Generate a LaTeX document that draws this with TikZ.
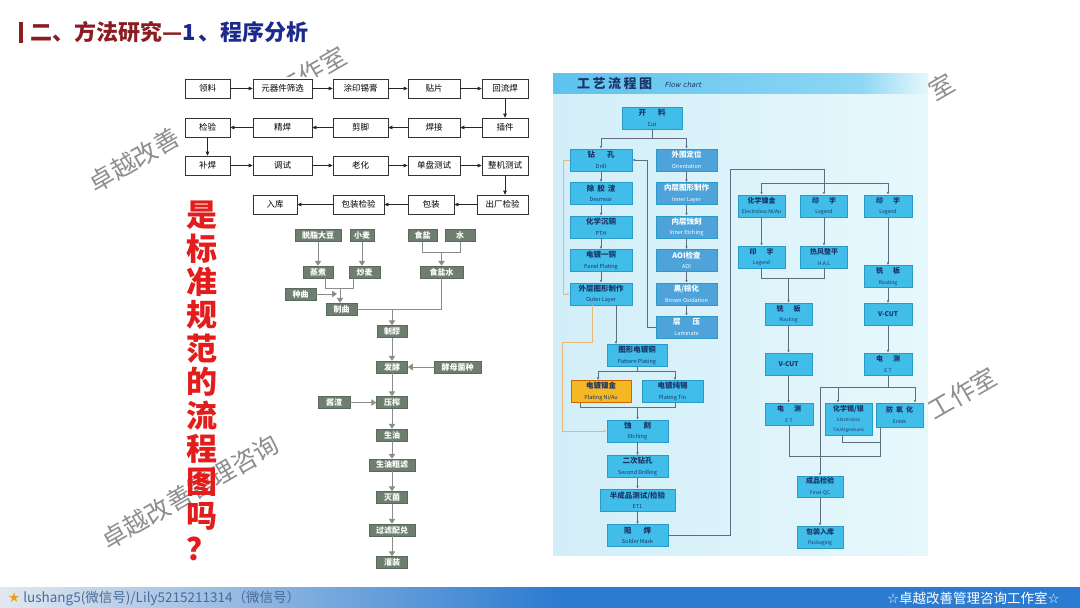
\documentclass[tikz,border=0pt]{standalone}
\usepackage{fontspec}
\setmainfont{Noto Sans CJK SC}
\newfontfamily\djv{DejaVu Sans}
\usetikzlibrary{arrows.meta}
\definecolor{titred}{HTML}{8A1C22}
\definecolor{titblue}{HTML}{1C2A8C}
\definecolor{soy}{HTML}{6F7F6F}
\definecolor{soyd}{HTML}{5A6A5A}
\definecolor{soyl}{HTML}{8C8C8C}
\definecolor{cyanb}{HTML}{41BDEA}
\definecolor{cyand}{HTML}{2A9AC8}
\definecolor{blueb}{HTML}{4DA3DA}
\definecolor{yellowb}{HTML}{F5B722}
\definecolor{navyt}{HTML}{1B3566}
\definecolor{lineR}{HTML}{5E6E7E}
\definecolor{orl}{HTML}{E8B878}
\definecolor{qred}{HTML}{E31C1C}
\definecolor{footb}{HTML}{2B7BD0}
\definecolor{footl}{HTML}{E2E8EF}
\definecolor{foott}{HTML}{4A6A9A}
\definecolor{staro}{HTML}{E8A020}
\definecolor{bgl}{HTML}{D2EEF8}
\definecolor{bgr}{HTML}{E6F8FC}
\definecolor{hdl}{HTML}{5DC3EE}
\definecolor{hdm}{HTML}{8ED6F4}
\definecolor{wmc}{HTML}{8E8E8E}
\newcommand\twoline[2]{{\bfseries\fontsize{7.5}{8}\selectfont #1}\\[-1.5pt]{\fontsize{5.5}{6}\selectfont #2}}
\newcommand\twos[2]{{\bfseries\fontsize{7}{7.5}\selectfont #1}\\[-1.5pt]{\fontsize{5}{5.5}\selectfont #2}}
\begin{document}
\begin{tikzpicture}[x=1pt,y=-1pt,
  wm/.style={font=\fontsize{25}{25}\selectfont, rotate=30, inner sep=0, text=wmc},
  lbox/.style={draw=black!80, fill=white, line width=0.6pt, inner sep=0, font=\fontsize{8.5}{9}\selectfont, minimum height=19pt},
  larr/.style={-{Triangle[length=4pt,width=3.5pt]}, line width=0.6pt, draw=black!85},
  sbox/.style={fill=soy, draw=soyd, line width=0.5pt, text=white, font=\bfseries\fontsize{8}{8}\selectfont, inner sep=0, minimum height=12pt},
  sline/.style={draw=soyl, line width=1pt},
  sarr/.style={sline, -{Triangle[length=5pt,width=6.5pt]}},
  rbox/.style={fill=cyanb, draw=cyand, line width=0.5pt, inner sep=0, align=center, text=navyt, minimum height=22pt},
  bbox/.style={rbox, fill=blueb, text=white},
  ybox/.style={rbox, fill=yellowb, draw=orange!80!black},
  rl/.style={draw=lineR, line width=0.7pt},
  rarr/.style={rl, -{Latex[length=3pt,width=2.6pt]}},
  orarr/.style={draw=orl, line width=0.7pt, -{Latex[length=3pt,width=2.6pt]}}]
\useasboundingbox (0,0) rectangle (1080,608);
\fill[white] (0,0) rectangle (1080,608);
% watermarks (visible fragments)
\node[wm] (wm1a) at (134,160) {卓越改善};
\node[wm] (wm1b) at (312,72) {工作室};
\node[wm] (wm2) at (190,492) {卓越改善管理咨询};
\node[wm] (wm3) at (941,87) {室};
\node[wm] (wm4) at (962,393) {工作室};
\fill[white] (180,77) rectangle (545,222);
\fill[white] (283,222) rectangle (500,578);
% title
\fill[titred] (19,22) rectangle (22.5,43);
\node[anchor=west, inner sep=0, font=\bfseries\fontsize{22}{22}\selectfont] (title) at (30,32) {\textcolor{titred}{二、方法研究—}\textcolor{titblue}{1\hspace{3pt}、程序分析}};
% left flowchart
\node[lbox, minimum width=45pt] (a1) at (207.5,88.5) {领料};
\node[lbox, minimum width=59pt] (a2) at (282.5,88.5) {元器件筛选};
\node[lbox, minimum width=55pt] (a3) at (360.5,88.5) {涂印锡膏};
\node[lbox, minimum width=52pt] (a4) at (434,88.5) {贴片};
\node[lbox, minimum width=46pt] (a5) at (505,88.5) {回流焊};
\node[lbox, minimum width=45pt] (b1) at (207.5,127.5) {检验};
\node[lbox, minimum width=59pt] (b2) at (282.5,127.5) {精焊};
\node[lbox, minimum width=55pt] (b3) at (360.5,127.5) {剪脚};
\node[lbox, minimum width=52pt] (b4) at (434,127.5) {焊接};
\node[lbox, minimum width=46pt] (b5) at (505,127.5) {插件};
\node[lbox, minimum width=45pt] (c1) at (207.5,165.5) {补焊};
\node[lbox, minimum width=59pt] (c2) at (282.5,165.5) {调试};
\node[lbox, minimum width=55pt] (c3) at (360.5,165.5) {老化};
\node[lbox, minimum width=52pt] (c4) at (434,165.5) {单盘测试};
\node[lbox, minimum width=46pt] (c5) at (505,165.5) {整机测试};
\node[lbox, minimum width=44pt] (d2) at (275,204.5) {入库};
\node[lbox, minimum width=51pt] (d3) at (358.5,204.5) {包装检验};
\node[lbox, minimum width=46pt] (d4) at (431,204.5) {包装};
\node[lbox, minimum width=51pt] (d5) at (502.5,204.5) {出厂检验};
\draw[larr] (a1) -- (a2); \draw[larr] (a2) -- (a3); \draw[larr] (a3) -- (a4); \draw[larr] (a4) -- (a5);
\draw[larr] (a5) -- (b5);
\draw[larr] (b5) -- (b4); \draw[larr] (b4) -- (b3); \draw[larr] (b3) -- (b2); \draw[larr] (b2) -- (b1);
\draw[larr] (b1) -- (c1);
\draw[larr] (c1) -- (c2); \draw[larr] (c2) -- (c3); \draw[larr] (c3) -- (c4); \draw[larr] (c4) -- (c5);
\draw[larr] (c5.south) -- (c5.south |- d5.north);
\draw[larr] (d5) -- (d4); \draw[larr] (d4) -- (d3); \draw[larr] (d3) -- (d2);
% soy sauce chart
\node[sbox, minimum width=46pt] (s1) at (318,235.5) {脱脂大豆};
\node[sbox, minimum width=24pt] (s2) at (362,235.5) {小麦};
\node[sbox, minimum width=29pt] (s3) at (422.5,235.5) {食盐};
\node[sbox, minimum width=30pt] (s4) at (460,235.5) {水};
\node[sbox, minimum width=30pt] (s5) at (318,272) {蒸煮};
\node[sbox, minimum width=31pt] (s6) at (364.5,272) {炒麦};
\node[sbox, minimum width=43pt] (s7) at (441.5,272) {食盐水};
\node[sbox, minimum width=31pt] (s8) at (300.5,294) {种曲};
\node[sbox, minimum width=31pt] (s9) at (341.5,309) {制曲};
\node[sbox, minimum width=30pt] (s10) at (392,331.5) {制醪};
\node[sbox, minimum width=31pt] (s11) at (392,367) {发酵};
\node[sbox, minimum width=47pt] (s12) at (457.5,367) {酵母菌种};
\node[sbox, minimum width=32pt] (s13) at (334,402.5) {酱渣};
\node[sbox, minimum width=31pt] (s14) at (392,402.5) {压榨};
\node[sbox, minimum width=31pt] (s15) at (392,435) {生油};
\node[sbox, minimum width=46pt] (s16) at (392,465) {生油粗滤};
\node[sbox, minimum width=31pt] (s17) at (392,497.5) {灭菌};
\node[sbox, minimum width=46pt] (s18) at (392,530) {过滤配兑};
\node[sbox, minimum width=31pt] (s19) at (392,562.5) {灌装};
\draw[sarr] (s1) -- (s5);
\draw[sarr] (s2.south) -- (s2.south |- s6.north);
\coordinate (g1) at (422.5,252); \coordinate (g2) at (460,252); \coordinate (g3) at (441.5,252);
\draw[sline] (s3.south) -- (g1) -- (g2) -- (s4.south);
\draw[sarr] (g3) -- (s7.north);
\coordinate (g4) at (325,288); \coordinate (g5) at (353,288); \coordinate (g6) at (340,288);
\draw[sline] (s5.south -| g4) -- (g4) -- (g5) -- (s6.south -| g5);
\draw[sarr] (g6) -- (g6 |- s9.north);
\coordinate (g7) at (337,294);
\draw[sarr] (s8.east) -- (g7);
\coordinate (g8) at (441.5,309); \coordinate (g9) at (392,309);
\draw[sline] (s9.east) -- (g8) -- (s7.south);
\draw[sarr] (g9) -- (s10.north);
\draw[sarr] (s10) -- (s11);
\draw[sarr] (s12) -- (s11);
\draw[sarr] (s11) -- (s14);
\draw[sarr] (s13) -- (s14);
\draw[sarr] (s14) -- (s15); \draw[sarr] (s15) -- (s16); \draw[sarr] (s16) -- (s17);
\draw[sarr] (s17) -- (s18); \draw[sarr] (s18) -- (s19);
% red question
\node[font=\bfseries\fontsize{31}{33.4}\selectfont, text=qred, align=center, inner sep=0] (q) at (202,381) {是\\标\\准\\规\\范\\的\\流\\程\\图\\吗\\？};
% right chart background
\shade[left color=bgl, right color=bgr] (553,73) rectangle (928,555);
\shade[left color=hdl, right color=hdm] (553,73) rectangle (860,93);
\shade[left color=hdm, right color=bgr] (860,73) rectangle (928,93);
\node[anchor=west, inner sep=0, font=\bfseries\fontsize{13}{13}\selectfont, text=navyt] (ht) at (577,84) {工\hspace{2.5pt}艺\hspace{2.5pt}流\hspace{2.5pt}程\hspace{2.5pt}图};
\node[anchor=west, inner sep=0, font=\djv\itshape\fontsize{7}{7}\selectfont, text=navyt] (hs) at (665,85) {Flow chart};
% right chart nodes
\node[rbox, minimum width=60pt] (r0) at (652,118) {\twoline{开\hspace{12pt}料}{Cut}};
\node[rbox, minimum width=62pt] (r1) at (601,160) {\twoline{钻\hspace{12pt}孔}{Drill}};
\node[rbox, minimum width=62pt] (r2) at (601,193.5) {\twoline{除\hspace{3pt}胶\hspace{3pt}渣}{Desmear}};
\node[rbox, minimum width=62pt] (r3) at (601,227) {\twoline{化学沉铜}{PTH}};
\node[rbox, minimum width=62pt] (r4) at (601,260.5) {\twoline{电镀一铜}{Panel Plating}};
\node[rbox, minimum width=62pt] (r5) at (601,294) {\twoline{外层图形制作}{Outer Layer}};
\node[bbox, minimum width=61pt] (q1) at (686.5,160) {\twoline{外围定位}{Orientation}};
\node[bbox, minimum width=61pt] (q2) at (686.5,193.5) {\twoline{内层图形制作}{Inner Layer}};
\node[bbox, minimum width=61pt] (q3) at (686.5,227) {\twoline{内层蚀刻}{Inner Etching}};
\node[bbox, minimum width=61pt] (q4) at (686.5,260.5) {\twoline{AOI检查}{AOI}};
\node[bbox, minimum width=61pt] (q5) at (686.5,294) {\twoline{黑/棕化}{Brown Oxidation}};
\node[bbox, minimum width=61pt] (q6) at (686.5,327) {\twoline{层\hspace{12pt}压}{Laminate}};
\node[rbox, minimum width=60pt] (p1) at (637,355.5) {\twoline{图形电镀铜}{Pattern Plating}};
\node[ybox, minimum width=60pt] (p2) at (601,391.5) {\twoline{电镀镍金}{Plating Ni/Au}};
\node[rbox, minimum width=61pt] (p3) at (672.5,391.5) {\twoline{电镀纯锡}{Plating Tin}};
\node[rbox, minimum width=61pt] (p4) at (637.5,431) {\twoline{蚀\hspace{12pt}刻}{Etching}};
\node[rbox, minimum width=61pt] (p5) at (637.5,466.5) {\twoline{二次钻孔}{Second Drilling}};
\node[rbox, minimum width=75pt] (p6) at (637.5,500) {\twoline{半成品测试/检验}{ET1}};
\node[rbox, minimum width=61pt] (p7) at (637.5,535.5) {\twoline{阻\hspace{12pt}焊}{Solder Mask}};
\node[rbox, minimum width=47pt] (t1) at (761.5,206) {\twos{化学镍金}{Electroless Ni/Au}};
\node[rbox, minimum width=47pt] (t2) at (824,206) {\twos{印\hspace{10pt}字}{Legend}};
\node[rbox, minimum width=48pt] (t3) at (888,206) {\twos{印\hspace{10pt}字}{Legend}};
\node[rbox, minimum width=47pt] (t4) at (761.5,257) {\twos{印\hspace{10pt}字}{Legend}};
\node[rbox, minimum width=47pt] (t5) at (824,257) {\twos{热风整平}{H.A.L}};
\node[rbox, minimum width=47pt] (t6) at (788.5,314) {\twos{铣\hspace{10pt}板}{Routing}};
\node[rbox, minimum width=47pt, font=\bfseries\fontsize{6.5}{7}\selectfont] (t7) at (788.5,364) {V-CUT};
\node[rbox, minimum width=48pt] (t8) at (888,276.5) {\twos{铣\hspace{10pt}板}{Routing}};
\node[rbox, minimum width=48pt, font=\bfseries\fontsize{6.5}{7}\selectfont] (t9) at (888,314.5) {V-CUT};
\node[rbox, minimum width=48pt] (t10) at (888,364) {\twos{电\hspace{10pt}测}{E T}};
\node[rbox, minimum width=48pt] (t11) at (789,414) {\twos{电\hspace{10pt}测}{E T}};
\node[rbox, minimum width=47pt, minimum height=32pt] (t12) at (848.5,419) {{\bfseries\fontsize{7}{7.5}\selectfont 化学锡/银}\\[-1.5pt]{\fontsize{4.5}{5}\selectfont Electroless}\\[-2pt]{\fontsize{4.5}{5}\selectfont Tin/Argentums}};
\node[rbox, minimum width=47pt, minimum height=24pt] (t13) at (899.5,415) {\twos{防\hspace{3pt}氧\hspace{3pt}化}{Entek}};
\node[rbox, minimum width=46pt, minimum height=21pt] (t14) at (820,486.5) {\twos{成品检验}{Final-QC}};
\node[rbox, minimum width=46pt] (t15) at (820,537) {\twos{包装入库}{Packaging}};
% right chart connectors
\coordinate (j0) at (652,138); \coordinate (j1) at (601,138); \coordinate (j2) at (686.5,138);
\draw[rl] (r0.south) -- (j0); \draw[rl] (j1) -- (j2);
\draw[rarr] (j1) -- (r1.north); \draw[rarr] (j2) -- (q1.north);
\draw[rarr] (r1) -- (r2); \draw[rarr] (r2) -- (r3); \draw[rarr] (r3) -- (r4); \draw[rarr] (r4) -- (r5);
\draw[rarr] (q1) -- (q2); \draw[rarr] (q2) -- (q3); \draw[rarr] (q3) -- (q4); \draw[rarr] (q4) -- (q5); \draw[rarr] (q5) -- (q6);
\coordinate (k1) at (647,327);
\draw[rarr] (q6.west) -- (k1) -- (k1 |- r1.east) -- (r1.east);
\coordinate (o1) at (563,160); \coordinate (o2) at (563,294);
\draw[orarr] (r1.west) -- (o1) -- (o2) -- (r5.west);
\coordinate (o3) at (592,342); \coordinate (o4) at (562,342); \coordinate (o5) at (562,431);
\draw[orarr] (r5.south -| o3) -- (o3) -- (o4) -- (o5) -- (p4.west);
\coordinate (o6) at (616,342);
\draw[rarr] (r5.south -| o6) -- (o6 |- p1.north);
\coordinate (k2) at (637,371); \coordinate (k3) at (598,371); \coordinate (k4) at (675,371);
\draw[rl] (p1.south) -- (k2); \draw[rl] (k3) -- (k4);
\draw[rarr] (k3) -- (k3 |- p2.north); \draw[rarr] (k4) -- (k4 |- p3.north);
\coordinate (k5) at (580,407); \coordinate (k6) at (675,407); \coordinate (k7) at (637.5,407);
\draw[rl] (p2.south -| k5) -- (k5) -- (k6) -- (p3.south -| k6);
\draw[rarr] (k7) -- (p4.north);
\draw[rarr] (p4) -- (p5); \draw[rarr] (p5) -- (p6); \draw[rarr] (p6) -- (p7);
\coordinate (m1) at (730,535.5); \coordinate (m2) at (730,169); \coordinate (m3) at (824,169); \coordinate (m4) at (824,183);
\coordinate (m5) at (761.5,183); \coordinate (m6) at (888,183);
\draw[rl] (p7.east) -- (m1) -- (m2) -- (m3) -- (m4);
\draw[rl] (m5) -- (m6);
\draw[rarr] (m5) -- (t1.north); \draw[rarr] (m4) -- (t2.north); \draw[rarr] (m6) -- (t3.north);
\draw[rarr] (t1) -- (t4); \draw[rarr] (t2) -- (t5);
\coordinate (n1) at (761.5,278); \coordinate (n2) at (824,278); \coordinate (n3) at (788.5,278);
\draw[rl] (t4.south) -- (n1) -- (n2) -- (t5.south);
\draw[rarr] (n3) -- (t6.north);
\draw[rarr] (t6) -- (t7); \draw[rarr] (t7.south) -- (t7.south |- t11.north);
\draw[rarr] (t3) -- (t8); \draw[rarr] (t8) -- (t9); \draw[rarr] (t9) -- (t10);
\coordinate (n4) at (888,387); \coordinate (n5) at (820,387); \coordinate (n6) at (915,387); \coordinate (n7) at (838,387);
\draw[rl] (t10.south) -- (n4); \draw[rl] (n5) -- (n6);
\draw[rarr] (n7) -- (n7 |- t12.north); \draw[rarr] (n6) -- (n6 |- t13.north);
\draw[rarr] (n5) -- (t14.north);
\coordinate (n8) at (842,442); \coordinate (n9) at (880,442); \coordinate (n10) at (880,456); \coordinate (n11) at (789,456);
\draw[rl] (t12.south -| n8) -- (n8) -- (n9) -- (t13.south -| n9);
\draw[rl] (n9) -- (n10) -- (n11) -- (t11.south);
\draw[rarr] (t14) -- (t15);
% footer
\shade[left color=footl, right color=footb] (0,587) rectangle (560,608);
\fill[footb] (560,587) rectangle (1080,608);
\node[anchor=west, inner sep=0, font=\fontsize{13.5}{13.5}\selectfont, text=foott] (f1) at (8,598) {{\djv\color{staro}★} lushang5(微信号)/Lily5215211314（微信号）};
\node[anchor=east, inner sep=0, font=\fontsize{13.5}{13.5}\selectfont, text=white] (f2) at (1060,598) {{\djv ☆}卓越改善管理咨询工作室{\djv ☆}};
\end{tikzpicture}
\end{document}
